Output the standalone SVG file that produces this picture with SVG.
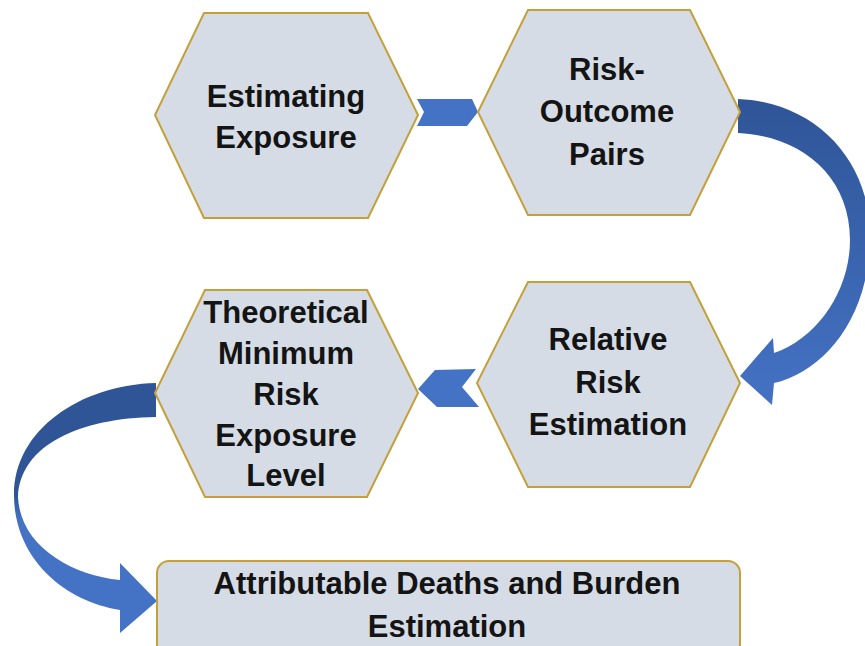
<svg xmlns="http://www.w3.org/2000/svg" width="865" height="646" viewBox="0 0 865 646">
<style>
.node{fill:#d6dce5;stroke:#c4a03a;stroke-width:2}
.lbl{font-family:"Liberation Sans",Arial,sans-serif;font-weight:bold;font-size:31px;fill:#141414;text-anchor:middle}
.chev{fill:#4472c4}
</style>
<defs>
<linearGradient id="gR" x1="0" y1="0" x2="0" y2="1">
<stop offset="0" stop-color="#2f5597"/>
<stop offset="1" stop-color="#4472c4"/>
</linearGradient>
<linearGradient id="gL" x1="0" y1="0" x2="0" y2="1">
<stop offset="0" stop-color="#2f5597"/>
<stop offset="0.45" stop-color="#2f5597"/>
<stop offset="0.55" stop-color="#4472c4"/>
<stop offset="1" stop-color="#4472c4"/>
</linearGradient>
</defs>
<rect width="865" height="646" fill="#ffffff"/>
<g id="connectors">
<path class="chev" d="M417 99 L472 99 L478 112 L467 126 L417 126 L424 112 Z"/>
<path d="M738 99 C815 102 870 160 870 235 C870 320 822 372 774 383 L772 405 L740 376 L773 338 L774 353 C818 338 850 290 850 240 C850 175 800 136 738 133 Z" fill="url(#gR)"/>
<path class="chev" d="M418 389 L435 370 L476 369 L462 387 L479 407 L437 407 Z"/>
<path d="M156 383 C80 385 14 430 14 495 C14 555 60 600 120 610 L120 633 L157 601 L120 563 L120 580 C70 575 20 545 18 497 C20 445 80 418 156 417 Z" fill="url(#gL)"/>
</g>
<g id="n1">
<polygon class="node" points="204,13 368,13 418,115 368,218 204,218 155,115"/>
<text class="lbl" x="286" y="107">Estimating</text>
<text class="lbl" x="286" y="148">Exposure</text>
</g>
<g id="n2">
<polygon class="node" points="528,10 690,10 740,112 690,215 528,215 478,112"/>
<text class="lbl" x="607" y="80">Risk-</text>
<text class="lbl" x="607" y="122">Outcome</text>
<text class="lbl" x="607" y="165">Pairs</text>
</g>
<g id="n3">
<polygon class="node" points="528,282 690,282 740,383 690,487 528,487 477,383"/>
<text class="lbl" x="608" y="350">Relative</text>
<text class="lbl" x="608" y="393">Risk</text>
<text class="lbl" x="608" y="435">Estimation</text>
</g>
<g id="n4">
<polygon class="node" points="205,290 367,290 418,393 367,497 205,497 155,393"/>
<text class="lbl" x="286" y="323">Theoretical</text>
<text class="lbl" x="286" y="364">Minimum</text>
<text class="lbl" x="286" y="405">Risk</text>
<text class="lbl" x="286" y="446">Exposure</text>
<text class="lbl" x="286" y="486">Level</text>
</g>
<g id="n5">
<rect class="node" x="157" y="561" width="583" height="95" rx="12" ry="12"/>
<text class="lbl" x="447" y="594">Attributable Deaths and Burden</text>
<text class="lbl" x="447" y="637">Estimation</text>
</g>
</svg>
